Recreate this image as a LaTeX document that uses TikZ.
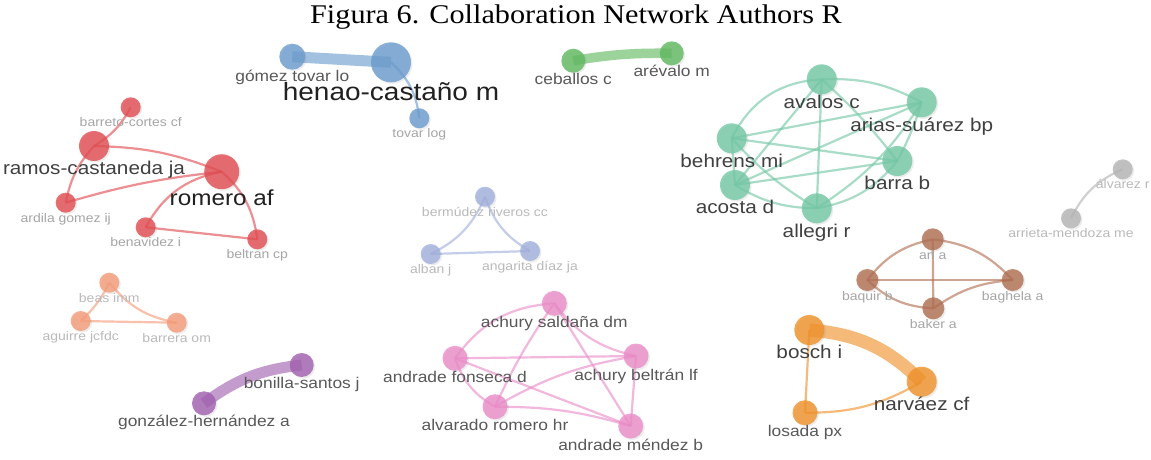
\documentclass[tikz,border=0pt]{standalone}
\usepackage{fontspec}
\usepackage{tikz}
\usetikzlibrary{shadows,backgrounds}

\newfontfamily\vosfont{Liberation Sans}[FakeStretch=1.12]
\newfontfamily\capfont{Liberation Serif}[FakeStretch=1.12]

\definecolor{cred}{RGB}{225,75,80}
\definecolor{cblue}{RGB}{105,155,205}
\definecolor{cgreen}{RGB}{95,185,95}
\definecolor{cteal}{RGB}{115,200,165}
\definecolor{clblue}{RGB}{160,175,220}
\definecolor{csalmon}{RGB}{245,155,120}
\definecolor{cpurple}{RGB}{160,95,175}
\definecolor{cpink}{RGB}{235,140,200}
\definecolor{cbrown}{RGB}{175,110,80}
\definecolor{corange}{RGB}{240,145,40}
\definecolor{cgray}{RGB}{180,180,180}

\begin{document}
\begin{tikzpicture}[x=1pt,y=1pt,
                    author/.style 2 args={circle,fill=#1,minimum size=#2,inner sep=0pt,fill opacity=0.8,
                      drop shadow={shadow xshift=1.5pt,shadow yshift=-1.5pt,opacity=0.15}},
                    link/.style={draw=#1,line width=2.2pt,draw opacity=0.62}]

  \tikzset{name lbl/.style={inner sep=0pt,fill opacity=1,text opacity=1},
           huge lbl/.style={name lbl,font=\vosfont\fontsize{25}{25}\selectfont,text=black!87,text height=18pt,text depth=5pt},
           big lbl/.style={name lbl,font=\vosfont\fontsize{21.7}{22}\selectfont,text=black!87,text height=15.6pt,text depth=4.3pt},
           mid lbl/.style={name lbl,font=\vosfont\fontsize{18.5}{19}\selectfont,text=black!75,text height=13.3pt,text depth=3.7pt},
           small lbl/.style={name lbl,font=\vosfont\fontsize{15.5}{16}\selectfont,text=black!65,text height=11.2pt,text depth=3.1pt},
           tiny lbl/.style={name lbl,font=\vosfont\fontsize{12.5}{13}\selectfont,text=black!35,text height=9pt,text depth=2.5pt},
           faint lbl/.style={name lbl,font=\vosfont\fontsize{12.5}{13}\selectfont,text=black!27,text height=9pt,text depth=2.5pt}}

  \useasboundingbox (0,0) rectangle (1151,-459);

  \node[font=\capfont\fontsize{27}{30}\selectfont] (title) at (576,-17) {Figura 6. Collaboration Network Authors R};

  % red
  \node[author={cred}{35}] (romero) at (221.7,-171.7) [label={[big lbl]below:romero af}] {};
  \node[author={cred}{30}] (ramos) at (94,-146) [label={[mid lbl]below:ramos-castaneda ja}] {};
  \node[author={cred}{20}] (barreto) at (130.7,-107.3) [label={[tiny lbl]below:barreto-cortes cf}] {};
  \node[author={cred}{20}] (ardila) at (65.7,-202.7) [label={[tiny lbl]below:ardila gomez ij}] {};
  \node[author={cred}{20}] (benav) at (145.7,-227.3) [label={[tiny lbl]below:benavidez i}] {};
  \node[author={cred}{20}] (beltran) at (257.3,-239.3) [label={[tiny lbl]below:beltran cp}] {};
  % blue
  \node[author={cblue}{40}] (henao) at (391,-62.3) [label={[huge lbl]below:henao-castaño m}] {};
  \node[author={cblue}{26}] (gomez) at (292.3,-56.7) [label={[small lbl]below:gómez tovar lo}] {};
  \node[author={cblue}{20}] (tovar) at (419.3,-118.3) [label={[tiny lbl]below:tovar log}] {};
  % green
  \node[author={cgreen}{24}] (ceballos) at (573.3,-60.7) [label={[small lbl]below:ceballos c}] {};
  \node[author={cgreen}{24}] (arevalo) at (671.7,-53.3) [label={[small lbl]below:arévalo m}] {};
  % teal
  \node[author={cteal}{30}] (avalos) at (821.7,-79.3) [label={[mid lbl]below:avalos c}] {};
  \node[author={cteal}{30}] (arias) at (921.7,-102.3) [label={[mid lbl]below:arias-suárez bp}] {};
  \node[author={cteal}{30}] (behrens) at (731.7,-138.3) [label={[mid lbl]below:behrens mi}] {};
  \node[author={cteal}{30}] (barra) at (897.3,-161) [label={[mid lbl]below:barra b}] {};
  \node[author={cteal}{30}] (acosta) at (735,-185) [label={[mid lbl]below:acosta d}] {};
  \node[author={cteal}{30}] (allegri) at (816.7,-208.3) [label={[mid lbl]below:allegri r}] {};
  % light blue
  \node[author={clblue}{20}] (bermudez) at (485,-196.7) [label={[faint lbl]below:bermúdez riveros cc}] {};
  \node[author={clblue}{20}] (alban) at (430.7,-254) [label={[faint lbl]below:alban j}] {};
  \node[author={clblue}{20}] (angarita) at (530,-251) [label={[faint lbl]below:angarita díaz ja}] {};
  % grey
  \node[author={cgray}{20}] (alvarez) at (1122.7,-169.3) [label={[faint lbl]below:álvarez r}] {};
  \node[author={cgray}{20}] (arrieta) at (1071,-218.3) [label={[faint lbl]below:arrieta-mendoza me}] {};
  % salmon
  \node[author={csalmon}{20}] (beas) at (109.3,-282.7) [label={[faint lbl]below:beas imm}] {};
  \node[author={csalmon}{20}] (aguirre) at (80.7,-321) [label={[faint lbl]below:aguirre jcfdc}] {};
  \node[author={csalmon}{20}] (barrera) at (176.7,-322.7) [label={[faint lbl]below:barrera om}] {};
  % purple
  \node[author={cpurple}{24}] (bonilla) at (301.7,-365) [label={[small lbl]below:bonilla-santos j}] {};
  \node[author={cpurple}{24}] (gonzalez) at (204,-403.3) [label={[small lbl]below:gonzález-hernández a}] {};
  % pink
  \node[author={cpink}{25}] (saldana) at (554.3,-303.3) [label={[small lbl]below:achury saldaña dm}] {};
  \node[author={cpink}{25}] (fonseca) at (455,-358.3) [label={[small lbl]below:andrade fonseca d}] {};
  \node[author={cpink}{25}] (achbel) at (636,-356) [label={[small lbl]below:achury beltrán lf}] {};
  \node[author={cpink}{25}] (alvarado) at (495,-406.7) [label={[small lbl]below:alvarado romero hr}] {};
  \node[author={cpink}{25}] (mendez) at (630.7,-426) [label={[small lbl]below:andrade méndez b}] {};
  % brown
  \node[author={cbrown}{22}] (ana) at (932.7,-239.3) [label={[tiny lbl]below:an a}] {};
  \node[author={cbrown}{22}] (baquir) at (867.3,-280) [label={[tiny lbl]below:baquir b}] {};
  \node[author={cbrown}{22}] (baghela) at (1012.7,-280) [label={[tiny lbl]below:baghela a}] {};
  \node[author={cbrown}{22}] (baker) at (933.3,-308.3) [label={[tiny lbl]below:baker a}] {};
  % orange
  \node[author={corange}{30}] (bosch) at (809.3,-330) [label={[mid lbl]below:bosch i}] {};
  \node[author={corange}{30}] (narvaez) at (921.7,-381.7) [label={[mid lbl]below:narváez cf}] {};
  \node[author={corange}{25}] (losada) at (805,-412.7) [label={[small lbl]below:losada px}] {};

\begin{pgfonlayer}{background}
\fill[white] (0,0) rectangle (1151,-459);
\path[link=cred] (barreto.center) edge[bend left=15] (ramos.center)
  (ramos.center) edge[bend left=10] (romero.center)
  (ramos.center) edge[bend right=15] (ardila.center)
  (ardila.center) edge[bend left=5] (romero.center)
  (romero.center) edge[bend right=25] (benav.center)
  (romero.center) edge[bend left=20] (beltran.center)
  (benav.center) edge (beltran.center);
\path[link=cblue] (gomez.center) edge[line width=11pt] (henao.center)
  (henao.center) edge[bend left=20] (tovar.center);
\path[link=cgreen] (ceballos.center) edge[line width=9.5pt,bend left=5] (arevalo.center);
\path[link=cteal] (behrens.center) edge[bend left=30] (avalos.center)
  (avalos.center) edge[bend left=15] (arias.center)
  (avalos.center) edge (acosta.center)
  (avalos.center) edge (allegri.center)
  (avalos.center) edge[bend left=5] (barra.center)
  (behrens.center) edge (arias.center)
  (behrens.center) edge (barra.center)
  (behrens.center) edge (acosta.center)
  (behrens.center) edge[bend right=8] (allegri.center)
  (acosta.center) edge (arias.center)
  (acosta.center) edge (barra.center)
  (acosta.center) edge[bend right=15] (allegri.center)
  (allegri.center) edge[bend right=20] (barra.center)
  (allegri.center) edge[bend right=12] (arias.center)
  (barra.center) edge[bend right=5] (arias.center);
\path[link=clblue] (bermudez.center) edge[bend left=20] (alban.center)
  (bermudez.center) edge[bend right=20] (angarita.center)
  (alban.center) edge (angarita.center);
\path[link=cgray] (alvarez.center) edge[bend right=20] (arrieta.center);
\path[link=csalmon] (beas.center) edge[bend left=10] (aguirre.center)
  (beas.center) edge[bend right=20] (barrera.center)
  (aguirre.center) edge (barrera.center);
\path[link=cpurple] (gonzalez.center) edge[line width=11pt,bend left=15] (bonilla.center);
\path[link=cpink] (fonseca.center) edge[bend left=25] (saldana.center)
  (saldana.center) edge[bend right=5] (alvarado.center)
  (saldana.center) edge[bend right=20] (achbel.center)
  (saldana.center) edge (mendez.center)
  (fonseca.center) edge (achbel.center)
  (fonseca.center) edge[bend right=20] (alvarado.center)
  (fonseca.center) edge (mendez.center)
  (alvarado.center) edge[bend left=10] (achbel.center)
  (alvarado.center) edge[bend left=8] (mendez.center)
  (achbel.center) edge (mendez.center);
\path[link=cbrown] (baquir.center) edge[bend left=20] (ana.center)
  (ana.center) edge[bend left=20] (baghela.center)
  (ana.center) edge (baker.center)
  (baquir.center) edge (baghela.center)
  (baquir.center) edge[bend right=20] (baker.center)
  (baker.center) edge[bend left=15] (baghela.center);
\path[link=corange] (bosch.center) edge[line width=13pt,bend left=20] (narvaez.center)
  (bosch.center) edge (losada.center)
  (losada.center) edge[bend right=15] (narvaez.center);
\end{pgfonlayer}

\end{tikzpicture}
\end{document}
